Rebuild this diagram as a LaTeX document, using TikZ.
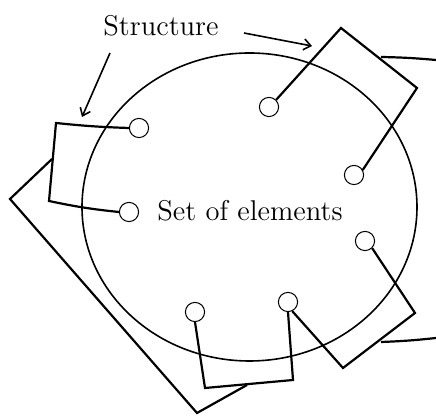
\documentclass[tikz,border=0pt]{standalone}
\usepackage{tikz}
\usetikzlibrary{arrows.meta}
\tikzset{
  elem/.style={circle,draw,line width=0.5pt,fill=white,minimum size=9.6pt,inner sep=0pt},
  struct/.style={line width=1.1pt,line join=miter},
}
\begin{document}
\begin{tikzpicture}[x=0.5pt,y=-0.5pt,>={Straight Barb[length=3.5pt,width=5.5pt]}]
  \useasboundingbox (0,0) rectangle (436,416);
  \draw[line width=0.8pt] (249.5,207) ellipse [x radius=167.5,y radius=154];
  \node[font=\fontsize{14.3}{17}\selectfont] (set) at (250,211) {Set of elements};
  \node[font=\fontsize{14.3}{17}\selectfont] (struc) at (161,26) {Structure};
  % elements
  \foreach \n/\x/\y in {1/269/107,2/139/128,3/354/175,4/129/212,5/365/241,6/288/302,7/195/312}{
    \node[elem] (e\n) at (\x,\y) {};
  }
  % corners of the structure
  \coordinate (lt) at (56,123);
  \coordinate (lb) at (49,201);
  \coordinate (lm) at (52,159);
  \coordinate (lw) at (10,199);
  \coordinate (bs) at (197,413);
  \coordinate (bm) at (247,385);
  \coordinate (bl) at (205,388);
  \coordinate (br) at (293,380);
  \coordinate (rs) at (343,368);
  \coordinate (re) at (415,313);
  \coordinate (tn) at (341,28);
  \coordinate (te) at (417,88);
  \coordinate (ut) at (381,57);
  \coordinate (ub) at (381,342);
  \coordinate (xt) at (436,60);
  \coordinate (xb) at (436,338);
  \draw[struct] (e2.west) to[bend left=2] (lt) -- (lb) to[bend right=3] (e4.west);
  \draw[struct] (lm) -- (lw) -- (bs) -- (bm);
  \draw[struct] (e7.south) -- (bl) -- (br) -- (e6.south);
  \draw[struct] (e6.-65) -- (rs) -- (re) -- (e5.south east);
  \draw[struct] (e1.north east) -- (tn) -- (te) -- (e3.30);
  \draw[struct] (ut) to[bend left=2] (xt);
  \draw[struct] (ub) to[bend right=2] (xb);
  % pointers
  \draw[->,line width=0.8pt] (110,53) -- (82,117);
  \draw[->,line width=0.8pt] (244,33) -- (312,46);
\end{tikzpicture}
\end{document}
